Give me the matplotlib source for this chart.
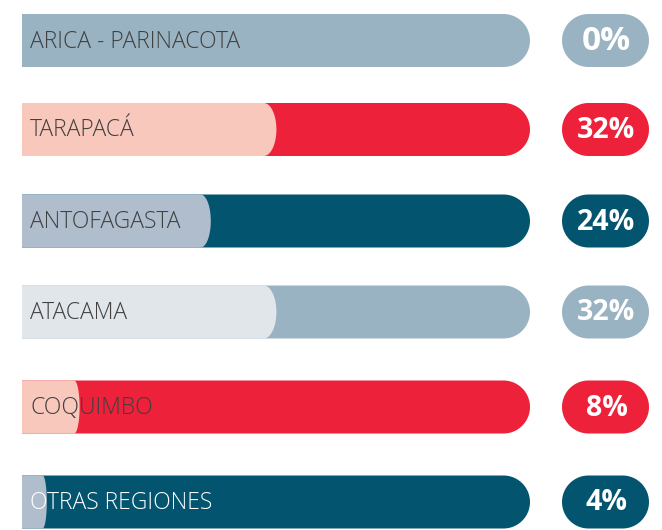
import matplotlib
matplotlib.use("Agg")
import numpy as np
import matplotlib.pyplot as plt
from matplotlib.patches import Polygon

# datos
regiones = ["ARICA - PARINACOTA", "TARAPACÁ", "ANTOFAGASTA", "ATACAMA", "COQUIMBO", "OTRAS REGIONES"]
porcentajes = [0, 32, 24, 32, 8, 4]
color_barra = ["#99B3C2", "#ED2139", "#02546F", "#99B3C2", "#ED2139", "#02546F"]
color_relleno = ["#99B3C2", "#F9C8BC", "#B0BDCD", "#E1E6EB", "#F9C8BC", "#B0BDCD"]
color_texto = ["#404040", "#404040", "#404040", "#404040", "#404040", "#FFFFFF"]

W, H = 662, 530
plt.rcParams["font.family"] = ["Open Sans", "DejaVu Sans"]
fig = plt.figure(figsize=(W / 100, H / 100), dpi=100)
ax = fig.add_axes([0, 0, 1, 1])
ax.set_xlim(0, W)
ax.set_ylim(H, 0)
ax.axis("off")

x0, x1 = 22, 530          # pista de la barra
centros = [40.5, 129.5, 221, 312, 407, 502]
alto = 53
r = alto / 2
pill_x0, pill_x1 = 562, 649


def escala(pct):
    # posicion del borde del relleno
    return x0 + 8.2 * pct - 8


def forma(xa, xb, yc, bx_der, bx_izq=0, n=40):
    # borde izquierdo (recto si bx_izq=0) y derecho eliptico
    t = np.linspace(-np.pi / 2, np.pi / 2, n)
    der = np.column_stack([xb - bx_der + bx_der * np.cos(t), yc + r * np.sin(t)])
    izq = np.column_stack([xa + bx_izq - bx_izq * np.cos(t[::-1]), yc + r * np.sin(t[::-1])])
    return np.vstack([der, izq])


for i, (reg, pct) in enumerate(zip(regiones, porcentajes)):
    yc = centros[i]
    ax.add_patch(Polygon(forma(x0, x1, yc, r), closed=True, fc=color_barra[i], ec="none"))
    if pct > 0:
        b = 3 + 0.3 * pct
        fill = Polygon(forma(x0, escala(pct), yc, b), closed=True,
                       fc=color_relleno[i], ec="none")
        ax.add_patch(fill)
    ax.text(30, yc + 1, reg, fontsize=16.5, color=color_texto[i],
            va="center", ha="left", fontweight="light")
    ax.add_patch(Polygon(forma(pill_x0, pill_x1, yc, r, r), closed=True,
                         fc=color_barra[i], ec="none"))
    fs = 24 if pct == 0 else 20.5
    ax.text((pill_x0 + pill_x1) / 2 + 1, yc + 1, "%d%%" % pct, fontsize=fs,
            color="white", fontweight="bold", va="center", ha="center")

fig.savefig("out.png", dpi=100)
